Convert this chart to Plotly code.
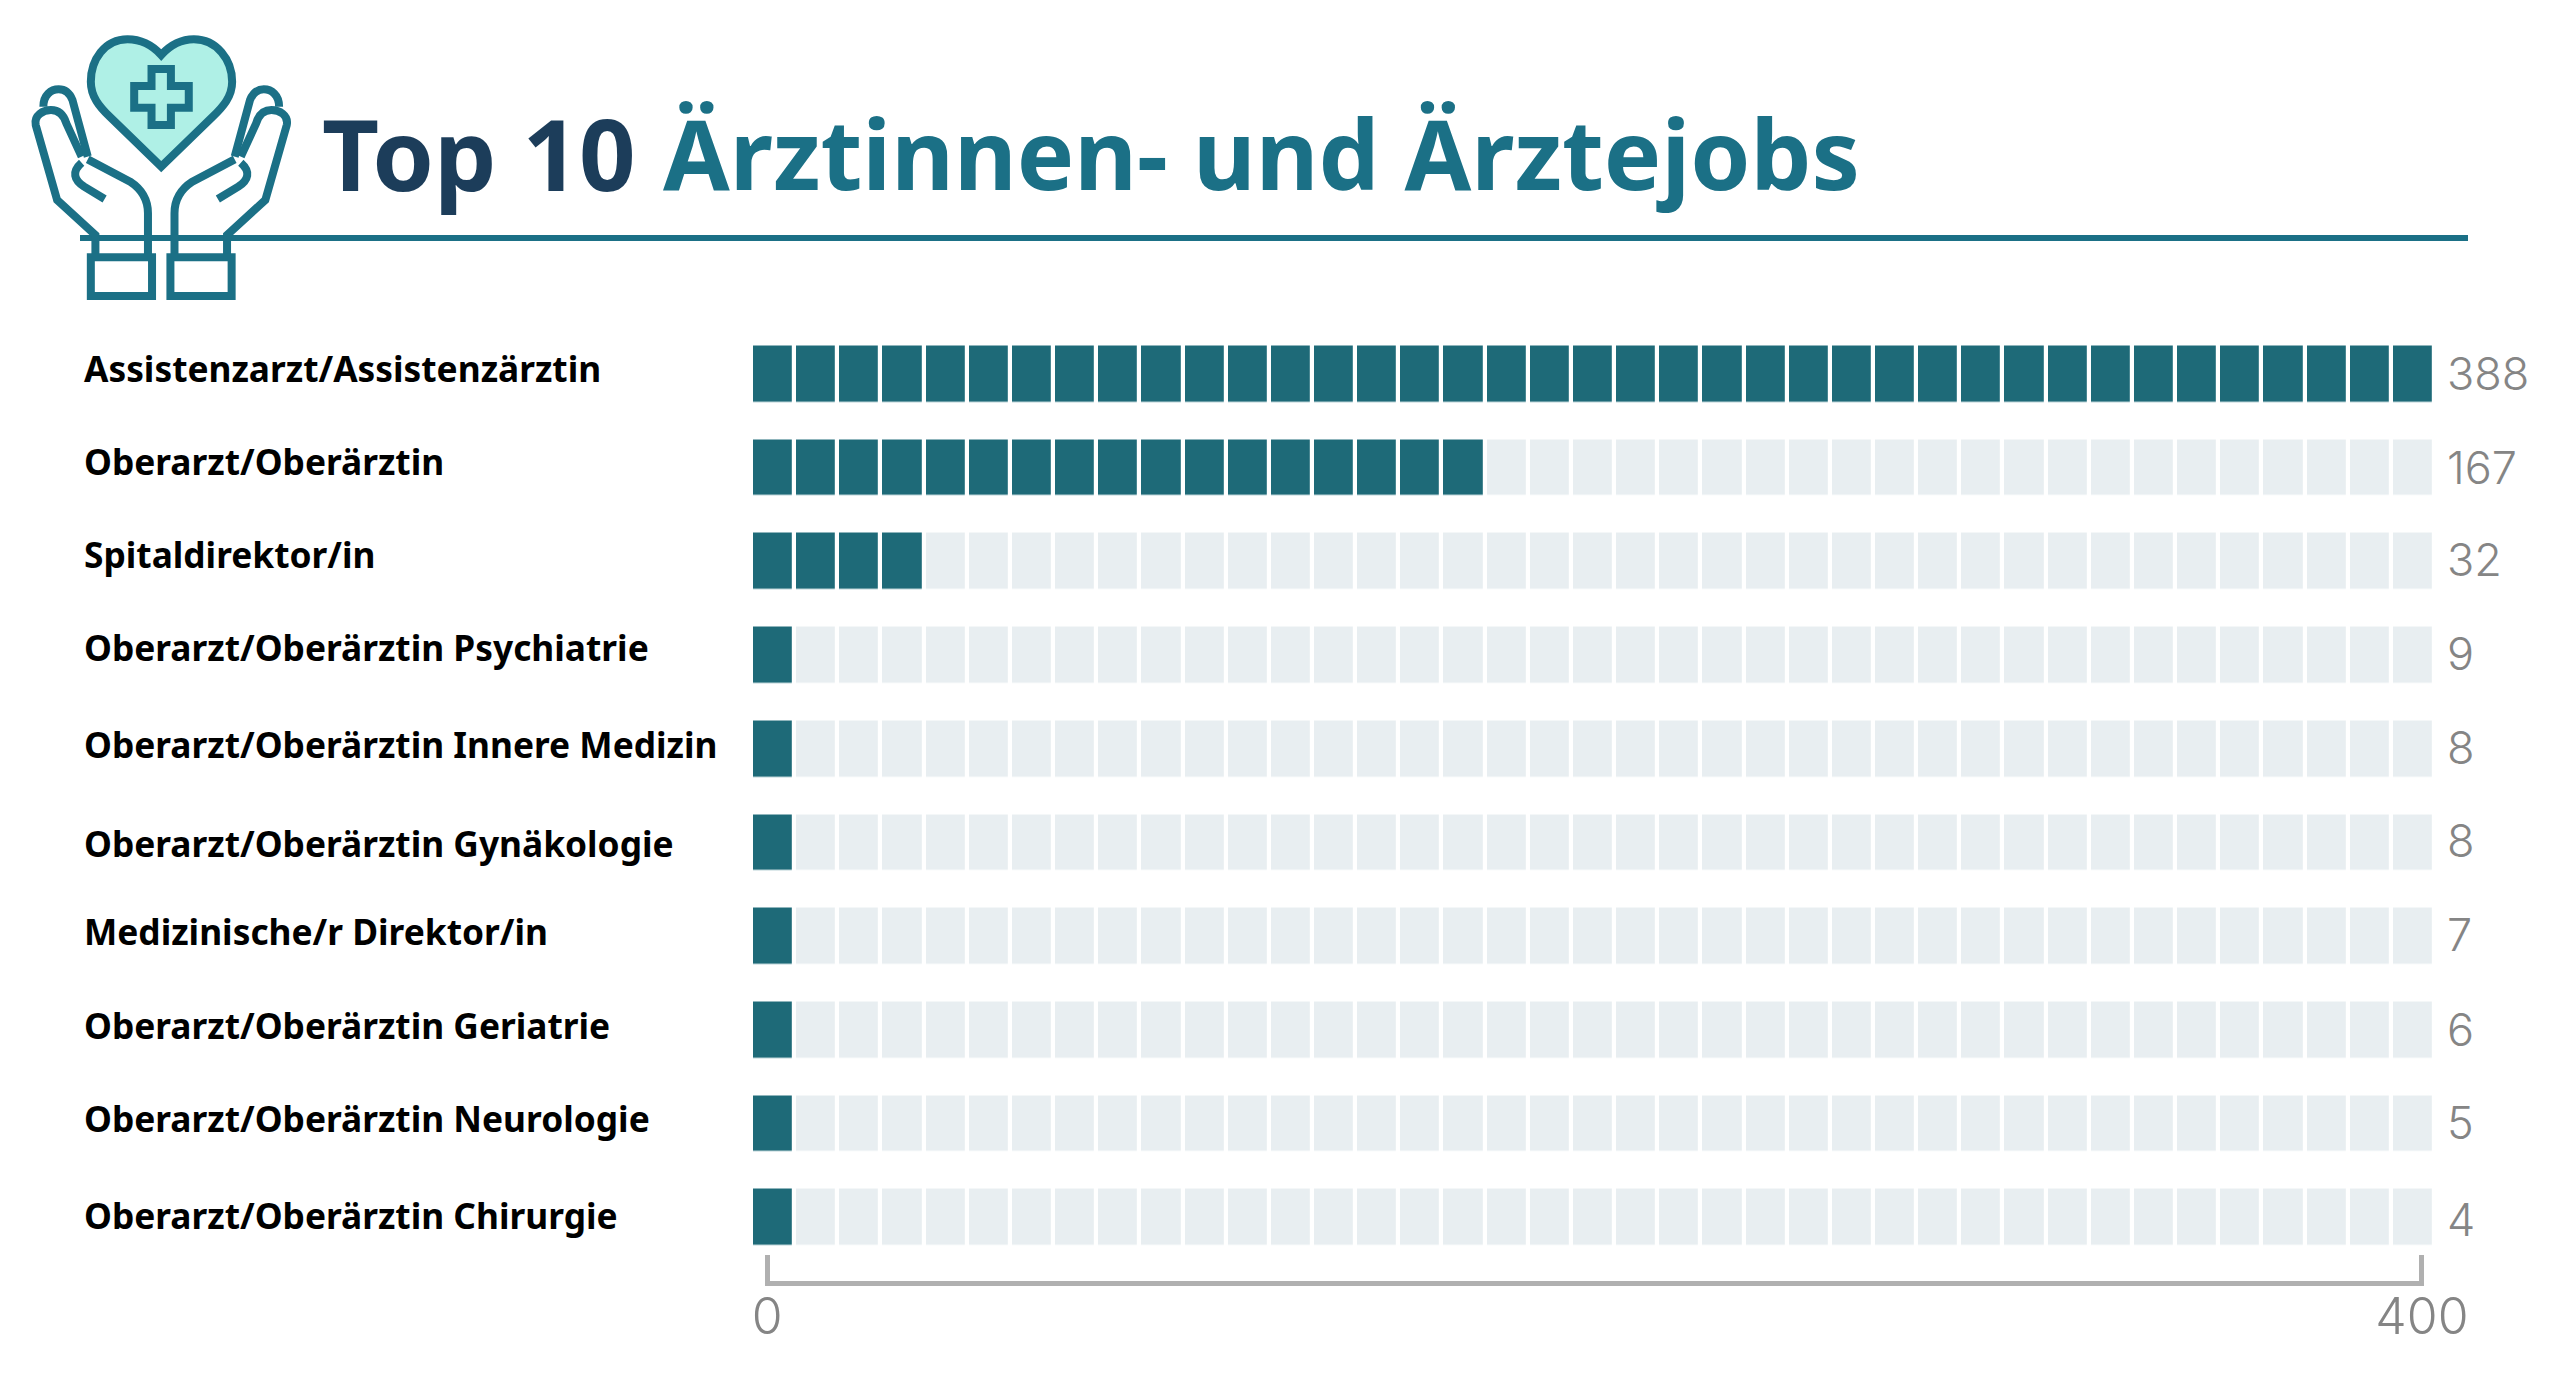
import math
import plotly.graph_objects as go

W, H = 2560, 1378

categories = ["Assistenzarzt/Assistenzärztin", "Oberarzt/Oberärztin", "Spitaldirektor/in",
              "Oberarzt/Oberärztin Psychiatrie", "Oberarzt/Oberärztin Innere Medizin",
              "Oberarzt/Oberärztin Gynäkologie", "Medizinische/r Direktor/in",
              "Oberarzt/Oberärztin Geriatrie", "Oberarzt/Oberärztin Neurologie",
              "Oberarzt/Oberärztin Chirurgie"]
values = [388, 167, 32, 9, 8, 8, 7, 6, 5, 4]
label_shift = [6, 7, 8, 8, 5, 0, 6, 5, 6, 3]
value_shift = [1, 1, 2, 2, 2, 2, 2, 1, 1, -2]
cell_size = 10
cell_count = 39
axis_ticks = [0, 400]

DARK = "#1e6a78"
LIGHT = "#e8eef1"
TEAL = "#1b7086"
NAVY = "#1c3d5a"
GREY = "#858585"

px = lambda v: v / W
py = lambda v: 1 - v / H

cell_x = [(i + 0.5) * cell_size for i in range(cell_count)]
z = [[1 if i < math.ceil(v / cell_size) else 0 for i in range(cell_count)] for v in values]

fig = go.Figure()
fig.add_trace(go.Heatmap(x=cell_x, y=categories, z=z, zmin=0, zmax=1, xgap=4.2, ygap=37.7,
                         colorscale=[[0, LIGHT], [1, DARK]], showscale=False, hoverinfo="skip"))
fig.add_trace(go.Scatter(x=axis_ticks, y=[0, 0], xaxis="x2", yaxis="y2", mode="none",
                         showlegend=False, hoverinfo="skip"))

annotations = []
for c, v, ls, vs in zip(categories, values, label_shift, value_shift):
    annotations.append(dict(text=c, x=px(84), xref="paper", y=c, yref="y", yshift=ls, xanchor="left",
                            yanchor="middle", showarrow=False, xshift=-2,
                            font=dict(family="Noto Sans", size=35.3, color="#000000", weight=700)))
    annotations.append(dict(text=str(v), x=px(2445), xref="paper", y=c, yref="y", yshift=vs, xanchor="left",
                            yanchor="middle", showarrow=False,
                            font=dict(family="Inter", size=45, color=GREY, weight=300)))
annotations.append(dict(text="Top 10", x=px(320), xref="paper", y=py(152), yref="paper", xanchor="left",
                        yanchor="middle", showarrow=False,
                        font=dict(family="Noto Sans", size=99, color=NAVY, weight=700)))
annotations.append(dict(text="Ärztinnen- und Ärztejobs", x=px(661), xref="paper", y=py(152), yref="paper",
                        xanchor="left", yanchor="middle", showarrow=False,
                        font=dict(family="Noto Sans", size=96.5, color=TEAL, weight=700)))


def icon_pt(x, y):
    return f"{px(x / 1.96):.5f},{py(y / 3):.5f}"


def path(cmds):
    out = []
    for c in cmds:
        if c == "Z":
            out.append("Z")
        else:
            op, pts = c[0], c[1:]
            out.append(op + " ".join(icon_pt(*p) for p in pts))
    return " ".join(out)


def mirror(cmds):
    res = []
    for c in cmds:
        if c == "Z":
            res.append(c)
        else:
            res.append((c[0],) + tuple((632 - x, y) for x, y in c[1:]))
    return res


heart = [("M", (316, 165)),
         ("C", (295, 130), (270, 118), (250, 118)),
         ("C", (205, 118), (178, 180), (178, 245)),
         ("C", (178, 290), (195, 320), (215, 350)),
         ("L", (316, 500)), ("L", (417, 350)),
         ("C", (437, 320), (455, 290), (455, 245)),
         ("C", (455, 180), (425, 118), (380, 118)),
         ("C", (360, 118), (337, 130), (316, 165)), "Z"]
cross = [("M", (297, 207)), ("L", (335, 207)), ("L", (335, 258)), ("L", (370, 258)), ("L", (370, 323)),
         ("L", (335, 323)), ("L", (335, 375)), ("L", (297, 375)), ("L", (297, 323)), ("L", (263, 323)),
         ("L", (263, 258)), ("L", (297, 258)), "Z"]
hand_outer = [("M", (187, 765)), ("L", (187, 705)), ("L", (112, 600)), ("L", (70, 375)),
              ("C", (66, 345), (85, 330), (100, 330)),
              ("C", (115, 330), (125, 345), (130, 370)), ("L", (160, 470))]
finger = [("M", (85, 320)), ("C", (85, 285), (100, 268), (115, 268)),
          ("C", (130, 268), (138, 285), (142, 300)), ("L", (172, 470))]
palm = [("M", (172, 478)), ("L", (255, 545)), ("C", (280, 570), (290, 600), (290, 640)), ("L", (290, 770))]
thumb = [("M", (160, 488)), ("C", (140, 515), (145, 540), (165, 560)), ("L", (205, 597))]
cuff = [("M", (178, 772)), ("L", (298, 772)), ("L", (298, 888)), ("L", (178, 888)), "Z"]

shapes = [dict(type="line", xref="paper", yref="paper", x0=px(80), x1=px(2468), y0=py(238), y1=py(238),
               line=dict(color=TEAL, width=6))]
shapes.append(dict(type="path", xref="paper", yref="paper", path=path(heart), fillcolor="#aff0e6",
                   line=dict(color=TEAL, width=8)))
shapes.append(dict(type="path", xref="paper", yref="paper", path=path(cross), fillcolor="#aff0e6",
                   line=dict(color=TEAL, width=8)))
for part in [hand_outer, finger, palm, thumb, cuff]:
    for p in (part, mirror(part)):
        shapes.append(dict(type="path", xref="paper", yref="paper", path=path(p), fillcolor="rgba(0,0,0,0)",
                           line=dict(color=TEAL, width=8)))

fig.update_layout(
    template="none",
    width=W, height=H, margin=dict(l=0, r=0, t=0, b=0, autoexpand=False),
    paper_bgcolor="white", plot_bgcolor="white", showlegend=False,
    xaxis=dict(domain=[px(751), px(2434)], range=[0, cell_count * cell_size], visible=False, fixedrange=True,
               automargin=False),
    yaxis=dict(domain=[py(1264.5), py(327.5)], type="category", range=[9.5, -0.5], visible=False, fixedrange=True,
               automargin=False),
    xaxis2=dict(domain=[px(765), px(2424)], range=[-0.5, 400.5], anchor="y2", tickvals=axis_ticks,
                ticks="inside", ticklen=26, tickwidth=5, tickcolor="#b0b0b0", showline=True, linewidth=5,
                linecolor="#b0b0b0", showgrid=False, zeroline=False, fixedrange=True, automargin=False,
                ticklabelstandoff=-12,
                tickfont=dict(family="Inter", size=50, color=GREY, weight=300)),
    yaxis2=dict(domain=[py(1281), py(1271)], visible=False, fixedrange=True, range=[0, 1], automargin=False),
    annotations=annotations, shapes=shapes,
)
fig.write_html("out.html", config={"displayModeBar": False},
               post_script="document.body.style.margin='0';")
